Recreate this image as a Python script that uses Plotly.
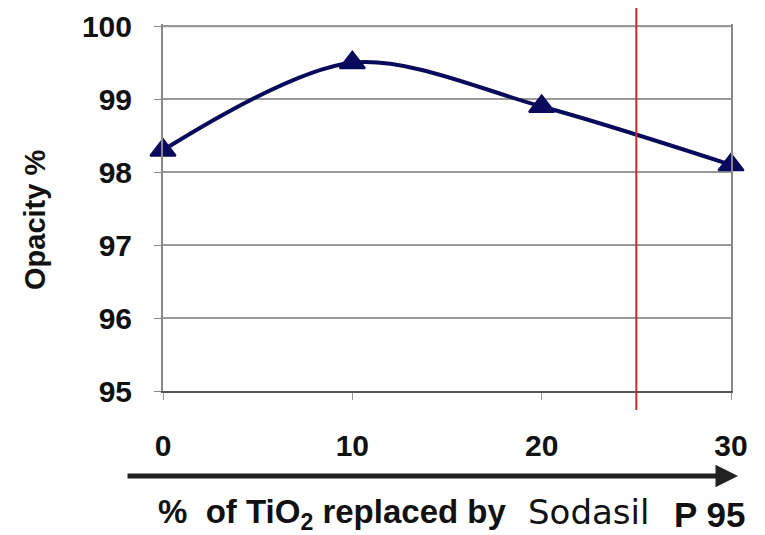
import plotly.graph_objects as go

replaced_pct = [0, 10, 20, 30]
opacity = [98.3, 99.5, 98.9, 98.1]
x_ticks = [0, 10, 20, 30]
y_ticks = [95, 96, 97, 98, 99, 100]
threshold_x = 25

W, H = 765, 535
# the page shows the figure offset by 8px (body margin)
L, R, T, B = 155, 42, 16, 152
PW, PH = W - L - R, H - T - B
SX0, SY0 = L + 8, T + 8 + PH  # screen coords of plot origin


def px(sx):
    return (sx - SX0) / PW


def py(sy):
    return (SY0 - sy) / PH


NAVY = "#0a0a5c"
GRID = "#999999"
fig = go.Figure()
fig.add_trace(go.Scatter(
    x=replaced_pct, y=opacity, mode="lines+markers",
    line=dict(color=NAVY, width=4, shape="spline", smoothing=0.9),
    marker=dict(symbol="triangle-up", size=22, color=NAVY, line=dict(color=NAVY, width=2)),
    cliponaxis=False, showlegend=False, hoverinfo="skip"))

# top edge of the plot box (gridline at the highest tick)
fig.add_shape(type="line", xref="x", yref="y", x0=x_ticks[0], x1=x_ticks[-1],
              y0=y_ticks[-1], y1=y_ticks[-1], line=dict(color=GRID, width=2), layer="above")

fig.add_shape(type="line", xref="x", yref="paper", x0=threshold_x, x1=threshold_x,
              y0=py(410), y1=py(5), line=dict(color="#cc2a2a", width=2))

fig.update_xaxes(range=[0, 30], tickvals=x_ticks, showgrid=False, zeroline=False,
                 showline=True, linecolor="#555555", linewidth=2, mirror=False,
                 ticks="outside", ticklen=7, tickcolor="#999999", tickwidth=1,
                 ticklabelstandoff=20, ticklabeloverflow="allow", automargin=False,
                 tickfont=dict(family="Liberation Sans", size=30, color="#111111", weight="bold"))
fig.update_yaxes(range=[95, 100.03], tickvals=y_ticks, showgrid=True, gridcolor=GRID,
                 gridwidth=1.5, zeroline=False, showline=True, linecolor="#888888",
                 linewidth=2, mirror=True, ticks="outside", ticklen=7, tickcolor="#888888",
                 ticklabelstandoff=16, ticklabeloverflow="allow", automargin=False,
                 tickfont=dict(family="Liberation Sans", size=30, color="#111111", weight="bold"))

fig.add_annotation(xref="paper", yref="paper", x=px(35), y=py(220), text="<b>Opacity %</b>",
                   textangle=-90, showarrow=False, xanchor="center", yanchor="middle",
                   font=dict(family="Liberation Sans", size=29, color="#111111"))

fig.add_annotation(xref="paper", yref="paper", x=px(738), y=py(476),
                   ax=-612, ay=0,
                   text="", showarrow=True, arrowhead=2, arrowsize=0.9,
                   arrowwidth=5, arrowcolor="#222222")

fig.add_annotation(xref="paper", yref="paper", x=px(156), y=py(514),
                   xanchor="left", yanchor="middle",
                   text="<b>%  of TiO<sub>2</sub> replaced by</b>", showarrow=False,
                   font=dict(family="Liberation Sans", size=33, color="#111111"))
fig.add_annotation(xref="paper", yref="paper", x=px(526), y=py(512),
                   xanchor="left", yanchor="middle",
                   text="Sodasil", showarrow=False,
                   font=dict(family="DejaVu Sans", size=34, color="#111111"))
fig.add_annotation(xref="paper", yref="paper", x=px(747), y=py(514),
                   xanchor="right", yanchor="middle",
                   text="<b>P 95</b>", showarrow=False,
                   font=dict(family="Liberation Sans", size=35, color="#111111"))

fig.update_layout(width=W, height=H, margin=dict(l=L, r=R, t=T, b=B, autoexpand=False),
                  plot_bgcolor="white", paper_bgcolor="white")

fig.write_html("out.html")
